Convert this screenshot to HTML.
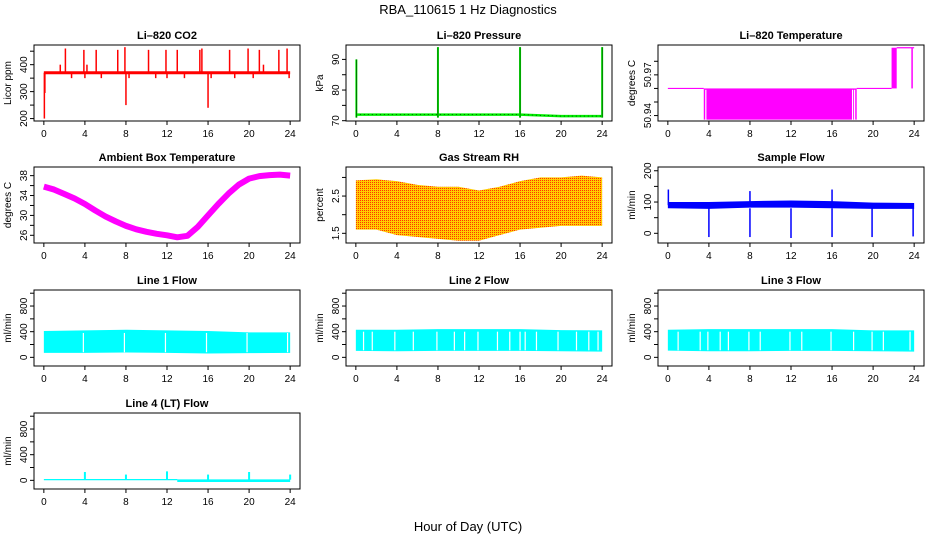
<!DOCTYPE html>
<html><head><meta charset="utf-8"><style>
body{margin:0;background:#fff}
svg{display:block;font-family:"Liberation Sans",sans-serif}
</style></head><body>
<svg id="c" width="936" height="540" viewBox="0 0 936 540">
<defs>
<pattern id="rhpat" width="2" height="2" patternUnits="userSpaceOnUse">
<rect width="2" height="2" fill="#ffcc00"/><rect width="1" height="1" fill="#ff3300"/>
</pattern>
</defs>
<text x="468" y="14" text-anchor="middle" font-size="13">RBA_110615  1 Hz Diagnostics</text>
<text x="468" y="531" text-anchor="middle" font-size="13">Hour of Day (UTC)</text>
</svg>
<script>
// ---- data ----
const xTicks=[0,4,8,12,16,20,24];
const co2Base=370;
const co2SpikeHours=[0.05,0.1,1.6,2.1,2.7,3.9,4.0,4.2,5.1,5.6,7.2,7.9,8.0,8.3,10.2,10.9,11.9,12.0,13.0,13.7,15.2,15.4,16.0,16.3,18.1,18.6,19.9,20.4,21.0,21.4,22.9,23.7,23.9];
const co2SpikeVals=[200,295,400,460,350,455,350,400,455,350,455,465,250,350,455,350,455,350,455,350,455,460,240,350,455,350,460,350,455,400,455,460,350];
const presBaseHours=[0,4,8,12,16,20,24];
const presBaseVals=[72,72,72,72,72,71.5,71.5];
const presSpikeHours=[0.05,8.0,16.0,24.0];
const presSpikeVals=[90,94,94,94];
const ltSegHours=[0,3.5,3.5,18.4,18.4,21.8,21.8,22.3,22.3,24];
const ltLo=[50.96,50.96,50.937,50.937,50.96,50.96,50.96,50.96,50.99,50.99];
const ltHi=[50.96,50.96,50.96,50.96,50.96,50.96,50.99,50.99,50.99,50.99];
const ltGapHours=[3.7,18.0,18.2];
const ambHours=[0,1,2,3,4,5,6,7,8,9,10,11,12,13,14,15,16,17,18,19,20,21,22,23,24];
const ambVals=[35.8,35.2,34.3,33.4,32.3,31.0,29.8,28.8,27.9,27.2,26.7,26.3,26.0,25.6,25.9,27.7,30.0,32.3,34.4,36.2,37.4,37.9,38.1,38.2,38.0];
const rhHours=[0,2,4,6,8,10,12,14,16,18,20,22,24];
const rhHi=[2.92,2.95,2.9,2.8,2.75,2.75,2.65,2.75,2.9,3.0,3.0,3.05,3.0];
const rhLo=[1.6,1.6,1.45,1.4,1.35,1.3,1.3,1.45,1.6,1.65,1.7,1.7,1.7];
const sfHours=[0,4,8,12,16,20,24];
const sfLo=[80,78,82,82,80,78,78];
const sfHi=[100,100,103,105,103,98,97];
const sfUpHours=[0.05,8.0,16.0];
const sfUpVals=[140,135,140];
const sfDropHours=[4.0,8.0,12.0,16.0,19.9,23.9];
const sfDropVals=[-12,-12,-15,-12,-12,-10];
const l1Hours=[0,4,8,12,16,20,24];
const l1Lo=[70,70,75,70,60,65,70];
const l1Hi=[410,420,430,420,410,390,390];
const l1Gaps=[3.85,7.85,11.85,15.85,19.8,23.75];
const l2Hours=[0,4,8,12,16,20,24];
const l2Lo=[100,95,100,100,100,95,90];
const l2Hi=[430,430,440,440,440,425,420];
const l2Gaps=[0.75,1.6,3.8,5.6,7.9,9.6,10.6,11.9,13.8,15.0,16.0,16.5,17.6,19.7,21.5,22.7,23.6];
const l3Hours=[0,4,8,12,16,20,24];
const l3Lo=[105,95,95,100,100,95,90];
const l3Hi=[430,440,440,440,440,420,420];
const l3Gaps=[1.0,3.15,3.9,5.1,5.9,7.9,9.0,11.9,13.05,15.9,18.1,19.9,21.0,23.6];
const l4Hours=[0,13,13,24];
const l4Lo=[2,2,-25,-25];
const l4Hi=[20,20,15,15];
const l4SpikeHours=[4,8,12,16,20,24];
const l4SpikeVals=[130,90,140,90,130,90];

// ---- drawing ----
const svg=document.getElementById('c');
const NS='http://www.w3.org/2000/svg';
function mk(tag,attrs,parent){const e=document.createElementNS(NS,tag);for(const k in attrs)e.setAttribute(k,attrs[k]);(parent||svg).appendChild(e);return e;}
function panel(name,title,ylab,box,ylim,yTicks,yLabels,draw){
  const g=mk('g',{});
  
  
  const [x0,x1,y0,y1]=box;
  const xlo=-0.96,xhi=24.96;
  const sx=v=>x0+(v-xlo)/(xhi-xlo)*(x1-x0);
  const sy=v=>y1-(v-ylim[0])/(ylim[1]-ylim[0])*(y1-y0);
  const clip='cl'+name;
  const cp=mk('clipPath',{id:clip},g);mk('rect',{x:x0,y:y0,width:x1-x0,height:y1-y0},cp);
  const dg=mk('g',{'clip-path':'url(#'+clip+')'},g);
  
  
  draw(dg,sx,sy);
  const b=mk('rect',{x:x0,y:y0,width:x1-x0,height:y1-y0,fill:'none',stroke:'#000','stroke-width':1},g);
  
  
  const t=mk('text',{x:(x0+x1)/2,y:y0-6,'text-anchor':'middle','font-size':11,'font-weight':'bold'},g);t.textContent=title;
  
  
  const xa=mk('g',{},g);
  
  
  mk('line',{x1:sx(0),x2:sx(24),y1:y1,y2:y1,stroke:'#000'},xa);
  xTicks.forEach(v=>{mk('line',{x1:sx(v),x2:sx(v),y1:y1,y2:y1+4,stroke:'#000'},xa);
    const tl=mk('text',{x:sx(v),y:y1+16,'text-anchor':'middle','font-size':10},xa);tl.textContent=v;});
  const ya=mk('g',{},g);
  
  
  mk('line',{x1:x0,x2:x0,y1:sy(yTicks[0]),y2:sy(yTicks[yTicks.length-1]),stroke:'#000'},ya);
  yTicks.forEach(v=>mk('line',{x1:x0-4,x2:x0,y1:sy(v),y2:sy(v),stroke:'#000'},ya));
  yLabels.forEach(v=>{const tx=x0-7,ty=sy(v);const tl=mk('text',{x:tx,y:ty,'text-anchor':'middle','font-size':10,transform:`rotate(-90 ${tx} ${ty})`},ya);tl.textContent=v;});
  const lx=x0-23,ly=(y0+y1)/2;
  const yl=mk('text',{x:lx,y:ly,'text-anchor':'middle','font-size':10,transform:`rotate(-90 ${lx} ${ly})`},g);yl.textContent=ylab;
  
  
}
function band(g,sx,sy,hs,lo,hi,fill){
  let d='M'+hs.map((h,i)=>sx(h)+','+sy(hi[i])).join('L');
  for(let i=hs.length-1;i>=0;i--)d+='L'+sx(hs[i])+','+sy(lo[i]);
  mk('path',{d:d+'Z',fill:fill},g);
}
function gaps(g,sx,y0,y1,hs){hs.forEach(h=>mk('line',{x1:sx(h),x2:sx(h),y1:y0,y2:y1,stroke:'#fff','stroke-width':1.2},g));}
function vlines(g,sx,sy,hs,base,vals,col,w){hs.forEach((h,i)=>mk('line',{x1:sx(h),x2:sx(h),y1:sy(base),y2:sy(vals[i]),stroke:col,'stroke-width':w||1.5},g));}
const C=[[34,300],[346,612],[658,924]],R=[[45,121],[167,243],[290,366],[413,489]];
const bx=(c,r)=>[C[c][0],C[c][1],R[r][0],R[r][1]];
const flowT=[0,200,400,600,800,1000],flowL=[0,400,800];

panel('co2','Li\u2013820 CO2','Licor ppm',bx(0,0),[191,473],[200,250,300,350,400,450],[200,300,400],(g,sx,sy)=>{
  mk('line',{x1:sx(0),x2:sx(24),y1:sy(co2Base),y2:sy(co2Base),stroke:'#f00','stroke-width':3},g);
  vlines(g,sx,sy,co2SpikeHours,co2Base,co2SpikeVals,'#f00',1.5);
});
panel('pressure','Li\u2013820 Pressure','kPa',bx(1,0),[69.9,94.7],[70,75,80,85,90],[70,80,90],(g,sx,sy)=>{
  mk('polyline',{points:presBaseHours.map((h,i)=>sx(h)+','+sy(presBaseVals[i])).join(' '),fill:'none',stroke:'#00ee00','stroke-width':2.5},g);
  mk('polyline',{points:presBaseHours.map((h,i)=>sx(h)+','+sy(presBaseVals[i])).join(' '),fill:'none',stroke:'#000','stroke-width':0.6,'stroke-dasharray':'1,3'},g);
  vlines(g,sx,sy,presSpikeHours,71,presSpikeVals,'#00ee00',2);
  vlines(g,sx,sy,presSpikeHours,71,presSpikeVals,'#000',0.5);
});
panel('li820-temp','Li\u2013820 Temperature','degrees C',bx(2,0),[50.936,50.992],[50.94,50.95,50.96,50.97,50.98],[50.94,50.97],(g,sx,sy)=>{
  for(let i=0;i<ltSegHours.length;i+=2){
    const a=ltSegHours[i],b=ltSegHours[i+1];
    if(ltLo[i]===ltHi[i]) mk('line',{x1:sx(a),x2:sx(b),y1:sy(ltLo[i]),y2:sy(ltLo[i]),stroke:'#ff00ff','stroke-width':1.2},g);
    else mk('rect',{x:sx(a),y:sy(ltHi[i]),width:sx(b)-sx(a),height:sy(ltLo[i])-sy(ltHi[i]),fill:'#ff00ff'},g);
  }
  gaps(g,sx,sy(50.959),sy(50.936),ltGapHours);
  mk('line',{x1:sx(23.8),x2:sx(23.8),y1:sy(50.99),y2:sy(50.96),stroke:'#ff00ff','stroke-width':1.5},g);
});
panel('ambient-temp','Ambient Box Temperature','degrees C',bx(0,1),[24.45,39.74],[26,28,30,32,34,36,38],[26,30,34,38],(g,sx,sy)=>{
  mk('polyline',{points:ambHours.map((h,i)=>sx(h)+','+sy(ambVals[i])).join(' '),fill:'none',stroke:'#ff00ff','stroke-width':6,'stroke-linejoin':'round'},g);
});
panel('gas-rh','Gas Stream RH','percent',bx(1,1),[1.24,3.28],[1.5,2.0,2.5,3.0],[1.5,2.5],(g,sx,sy)=>{
  band(g,sx,sy,rhHours,rhLo,rhHi,'url(#rhpat)');
});
panel('sample-flow','Sample Flow','ml/min',bx(2,1),[-31,212],[0,50,100,150,200],[0,100,200],(g,sx,sy)=>{
  band(g,sx,sy,sfHours,sfLo,sfHi,'#0000ff');
  vlines(g,sx,sy,sfUpHours,90,sfUpVals,'#0000ff',1.5);
  vlines(g,sx,sy,sfDropHours,80,sfDropVals,'#0000ff',1.5);
});
panel('line1-flow','Line 1 Flow','ml/min',bx(0,2),[-135,1050],flowT,flowL,(g,sx,sy)=>{
  band(g,sx,sy,l1Hours,l1Lo,l1Hi,'#00ffff');gaps(g,sx,sy(380),sy(80),l1Gaps);
});
panel('line2-flow','Line 2 Flow','ml/min',bx(1,2),[-135,1050],flowT,flowL,(g,sx,sy)=>{
  band(g,sx,sy,l2Hours,l2Lo,l2Hi,'#00ffff');gaps(g,sx,sy(400),sy(110),l2Gaps);
});
panel('line3-flow','Line 3 Flow','ml/min',bx(2,2),[-135,1050],flowT,flowL,(g,sx,sy)=>{
  band(g,sx,sy,l3Hours,l3Lo,l3Hi,'#00ffff');gaps(g,sx,sy(400),sy(110),l3Gaps);
});
panel('line4-flow','Line 4 (LT) Flow','ml/min',bx(0,3),[-135,1050],flowT,flowL,(g,sx,sy)=>{
  band(g,sx,sy,l4Hours,l4Lo,l4Hi,'#00ffff');
  vlines(g,sx,sy,l4SpikeHours,10,l4SpikeVals,'#00ffff',2);
});
</script>
</body></html>
